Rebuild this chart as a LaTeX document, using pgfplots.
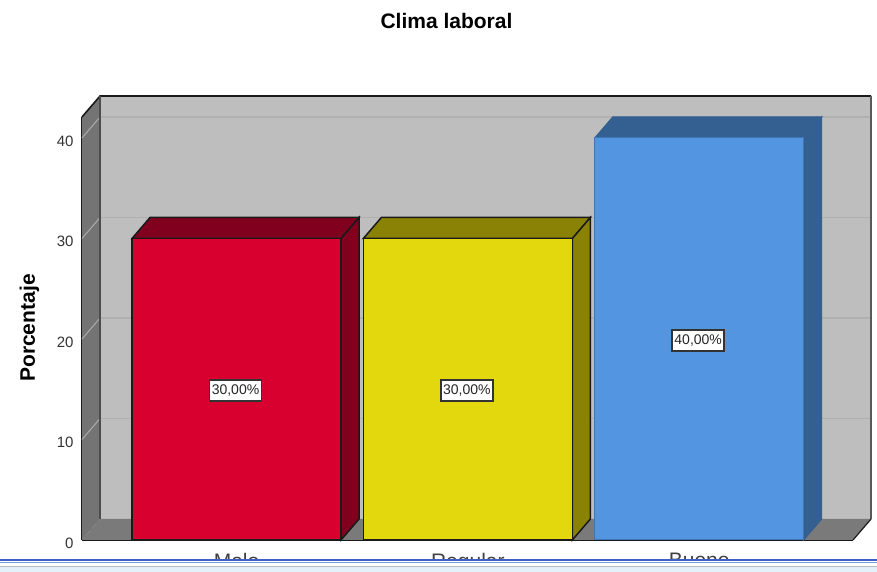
\documentclass[border=0pt]{standalone}
\usepackage{pgfplots}
\pgfplotsset{compat=1.18}
\usepackage{fontspec}
\setmainfont{Liberation Sans}
\definecolor{wall}{HTML}{BEBEBE}
\definecolor{sidewall}{HTML}{747474}
\definecolor{floorc}{HTML}{7A7A7A}
\definecolor{gridback}{HTML}{B0B0B0}
\definecolor{gridside}{HTML}{ABABAB}
\definecolor{redf}{HTML}{D7002E}
\definecolor{redd}{HTML}{80001E}
\definecolor{yelf}{HTML}{E3D80D}
\definecolor{yeld}{HTML}{8A8205}
\definecolor{bluf}{HTML}{5495E2}
\definecolor{blud}{HTML}{345F91}
\definecolor{edgec}{HTML}{1A1A1A}
\definecolor{framebg}{HTML}{E4F0FA}
\definecolor{frameblue}{HTML}{3F5FC8}
\definecolor{framelight}{HTML}{6F9BDE}
\definecolor{framegray}{HTML}{B4BAC0}
\begin{document}
\begin{tikzpicture}[x=1pt,y=1pt]
\useasboundingbox (0,0) rectangle (877,572);
\begin{axis}[
  at={(82pt,32pt)}, anchor=south west,
  width=771pt, height=423pt, scale only axis,
  xmin=-0.668, xmax=2.665, ymin=0, ymax=42.09,
  clip=false,
  axis x line=bottom, axis y line=left,
  axis line style={-, edgec, line width=1.6pt},
  major tick length=0pt,
  xtick={0,1,2}, xticklabels={Malo,Regular,Bueno},
  ytick={0,10,20,30,40},
  /pgf/number format/assume math mode=true,
  yticklabel style={font=\fontsize{15}{18}\selectfont, text=black!80, xshift=-5pt, yshift=-3pt},
  xticklabel style={font=\fontsize{21}{24}\selectfont, text=black!75, yshift=-10pt},
]
% back wall, side wall and floor
\addplot[fill=wall, draw=none] coordinates {(-0.590,2.09)(2.743,2.09)(2.743,44.18)(-0.590,44.18)} -- cycle;
\addplot[fill=sidewall, draw=none] coordinates {(-0.668,0)(-0.590,2.09)(-0.590,44.18)(-0.668,42.09)} -- cycle;
\addplot[fill=floorc, draw=none] coordinates {(-0.668,0)(2.665,0)(2.743,2.09)(-0.590,2.09)} -- cycle;
% gridlines on the back wall
\addplot[gridback, line width=1.5pt] coordinates {(-0.590,12.09)(2.743,12.09)};
\addplot[gridback, line width=1.5pt] coordinates {(-0.590,22.09)(2.743,22.09)};
\addplot[gridback, line width=1.5pt] coordinates {(-0.590,32.09)(2.743,32.09)};
\addplot[gridback, line width=1.5pt] coordinates {(-0.590,42.09)(2.743,42.09)};
% gridlines on the side wall
\addplot[gridside, line width=1pt] coordinates {(-0.668,10)(-0.590,12.09)};
\addplot[gridside, line width=1pt] coordinates {(-0.668,20)(-0.590,22.09)};
\addplot[gridside, line width=1pt] coordinates {(-0.668,30)(-0.590,32.09)};
\addplot[gridside, line width=1pt] coordinates {(-0.668,40)(-0.590,42.09)};
% wall edges
\addplot[edgec, line width=1.6pt] coordinates {(-0.668,42.09)(-0.590,44.18)(2.743,44.18)};
\addplot[black!70, line width=1.6pt] coordinates {(-0.590,44.18)(-0.590,2.09)};
\addplot[black!65, line width=1.2pt] coordinates {(2.743,44.18)(2.743,2.09)};
\addplot[edgec, line width=1.2pt] coordinates {(2.665,0)(2.743,2.09)};
% Malo
\addplot[fill=redd, draw=edgec, line width=1.5pt] coordinates {(-0.4518,30)(0.4518,30)(0.5296,32.09)(-0.3740,32.09)} -- cycle;
\addplot[fill=redd, draw=edgec, line width=1.5pt] coordinates {(0.4518,0)(0.5296,2.09)(0.5296,32.09)(0.4518,30)} -- cycle;
\addplot[ybar, bar width=0.9036, bar shift=0pt, fill=redf, draw=edgec, line width=1.5pt] coordinates {(0,30)};
% Regular
\addplot[fill=yeld, draw=edgec, line width=1.5pt] coordinates {(0.5482,30)(1.4518,30)(1.5296,32.09)(0.6260,32.09)} -- cycle;
\addplot[fill=yeld, draw=edgec, line width=1.5pt] coordinates {(1.4518,0)(1.5296,2.09)(1.5296,32.09)(1.4518,30)} -- cycle;
\addplot[ybar, bar width=0.9036, bar shift=0pt, fill=yelf, draw=edgec, line width=1.5pt] coordinates {(1,30)};
% Bueno
\addplot[fill=blud, draw=blud, line width=1pt] coordinates {(1.5482,40)(2.4518,40)(2.5296,42.09)(1.6260,42.09)} -- cycle;
\addplot[fill=blud, draw=blud, line width=1pt] coordinates {(2.4518,0)(2.5296,2.09)(2.5296,42.09)(2.4518,40)} -- cycle;
\addplot[ybar, bar width=0.9036, bar shift=0pt, fill=bluf, draw=blud!60!bluf, line width=1pt] coordinates {(2,40)};
% value labels
\tikzset{vlabel/.style={fill=white, draw=black!80, line width=1.5pt, inner sep=1.5pt, minimum width=52pt, minimum height=21pt, font=\fontsize{14}{16}\selectfont, text=black!85, xshift=-1pt, yshift=-1.5pt}}
\node[vlabel] at (axis cs:0,15) {30,00\%};
\node[vlabel] at (axis cs:1,15) {30,00\%};
\node[vlabel] at (axis cs:2,20) {40,00\%};
\end{axis}
\node[font=\bfseries\fontsize{21}{24}\selectfont] at (446.5,551) {Clima laboral};
\node[font=\bfseries\fontsize{21}{24}\selectfont, rotate=90] at (29.5,244) {Porcentaje};
% window frame across the lower edge
\fill[white] (0,0) rectangle (877,13);
\fill[framebg] (0,0) rectangle (877,4.5);
\fill[framegray] (0,4.5) rectangle (877,6);
\fill[framelight] (0,8.5) rectangle (877,9.7);
\fill[frameblue] (0,10.7) rectangle (877,13);
\end{tikzpicture}
\end{document}
